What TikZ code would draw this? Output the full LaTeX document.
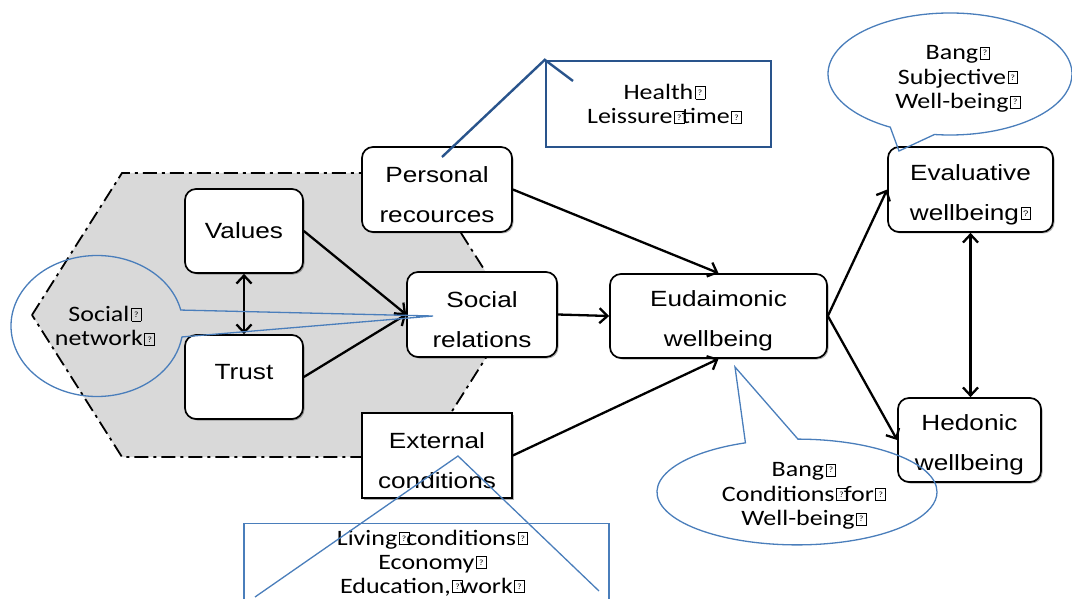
\documentclass[tikz,border=0pt]{standalone}
\usepackage{fontspec}
\setmainfont{Liberation Sans}[FakeStretch=1.19]
\newfontfamily\calfont{Carlito}[FakeStretch=1.18]
\usetikzlibrary{arrows.meta,shapes.callouts,shadows}
\definecolor{cblue}{RGB}{74,126,187}
\definecolor{dblue}{RGB}{41,84,140}
\definecolor{hexgray}{RGB}{217,217,217}
\newcommand\qb{\kern1.5pt\hbox{\vrule width0.8pt\vbox to 13pt{\hrule height0.8pt\vss\hbox to 9pt{\hss\fontsize{8}{8}\selectfont ?\hss}\vss\hrule height0.8pt}\vrule width0.8pt}}
\newcommand\qbm{\qb\kern-3pt}
\newcommand\tstrut{\rule{0pt}{26pt}}
\tikzset{
 box/.style={draw=black, line width=1.7pt, fill=white, rounded corners=11pt, inner sep=0pt, align=center,
   font=\fontsize{22}{40}\selectfont,
   drop shadow={shadow xshift=1.5pt,shadow yshift=-1.5pt,fill=black,opacity=0.3}},
 sqbox/.style={box, rounded corners=0pt},
 arr/.style={line width=2.3pt, -{Straight Barb[length=8pt,width=15pt]}},
 darr/.style={line width=2.3pt, {Straight Barb[length=8pt,width=15pt]}-{Straight Barb[length=8pt,width=15pt]}},
 callell/.style={ellipse callout, draw=cblue, line width=1.3pt, inner sep=0pt, align=center,
   callout pointer arc=22, font=\calfont\fontsize{22}{24.5}\selectfont},
 callrect/.style={draw=cblue, line width=1.3pt, inner sep=0pt, align=center,
   font=\calfont\fontsize{22}{24.5}\selectfont},
 hexa/.style={fill=hexgray, draw=black, line width=1.8pt, dash pattern=on 14pt off 5pt on 3pt off 5pt},
 cline/.style={draw=cblue, line width=1.3pt},
}
\begin{document}
\begin{tikzpicture}[x=1pt,y=-1pt]
\useasboundingbox (0,0) rectangle (1072,599);
% background group
\draw[hexa] (32,315) -- (122,173) -- (423,173) -- (513,315) -- (423,457) -- (122,457) -- cycle;

% boxes
\node[box, minimum width=118, minimum height=84] (values) at (244,231) {\raisebox{-4pt}{Values}};
\node[box, minimum width=118, minimum height=84] (trust) at (244,377) {\raisebox{11pt}{Trust}};
\node[box, minimum width=150, minimum height=85] (pers) at (437,189.5) {\tstrut Personal\\recources};
\node[box, minimum width=150, minimum height=85] (socrel) at (482,314.5) {\tstrut Social\\relations};
\node[sqbox, minimum width=150, minimum height=85] (ext) at (437,455.5) {\tstrut External\\conditions};
\node[box, minimum width=217, minimum height=84] (eud) at (718.5,316) {\tstrut Eudaimonic\\wellbeing};
\node[box, minimum width=165, minimum height=85] (eval) at (970.5,189.5) {\tstrut Evaluative\\wellbeing\qb};
\node[box, minimum width=143, minimum height=84] (hed) at (969.5,440) {\tstrut Hedonic\\wellbeing};

% arrows
\draw[darr] (values.south) -- (trust.north);
\draw[arr] (values.east) -- (socrel.west);
\draw[arr] (trust.east) -- (socrel.west);
\draw[arr] (pers.east) -- (eud.north);
\draw[arr] (socrel.east) -- (eud.west);
\draw[arr] (ext.east) -- (eud.south);
\draw[arr] (eud.east) -- (eval.west);
\draw[arr] (eud.east) -- (hed.west);
\draw[darr] (eval.south) -- (eval.south |- hed.north);

% callouts
\coordinate (snTip) at (433,316);
\coordinate (subjTip) at (899,151);
\coordinate (condTip) at (735,367);
\coordinate (hlTip) at (442,157);
\coordinate (hlK) at (573,81);
\coordinate (livTip) at (458,456);
\coordinate (livL) at (255,597);
\coordinate (livR) at (599,591);

\node[callell, minimum width=172, minimum height=141, callout absolute pointer=(snTip)] (socnet) at (97,326) {\hspace*{16pt}Social\qb\\\hspace*{16pt}network\qb};
\node[callell, minimum width=244, minimum height=122, callout absolute pointer=(subjTip)] (subj) at (950,74) {\hspace*{16pt}\rule{0pt}{24pt}Bang\qb\\\hspace*{16pt}Subjective\qb\\\hspace*{16pt}Well-being\qb};
\node[callell, minimum width=280, minimum height=104, callout absolute pointer=(condTip)] (cond) at (797,492) {\hspace*{14pt}\rule{0pt}{22pt}Bang\qb\\\hspace*{14pt}Conditions\qbm for\qb\\\hspace*{14pt}Well-being\qb};

\node[callrect, draw=dblue, line width=2.4pt, minimum width=225, minimum height=86] (hl) at (658.5,104) {\hspace*{12pt}Health\qb\\\hspace*{12pt}Leissure\qbm time\qb};
\draw[dblue, line width=2.4pt] (hlTip) -- (hl.north west) -- (hlK);

\node[callrect, minimum width=365, minimum height=79, font=\calfont\fontsize{22}{24}\selectfont] (liv) at (426.5,563) {\hspace*{12pt}Living\qbm conditions\qb\\\hspace*{12pt}Economy\qb\\\hspace*{12pt}Education,\qbm work\qb};
\draw[cline] (livL) -- (livTip) -- (livR);
\end{tikzpicture}
\end{document}
